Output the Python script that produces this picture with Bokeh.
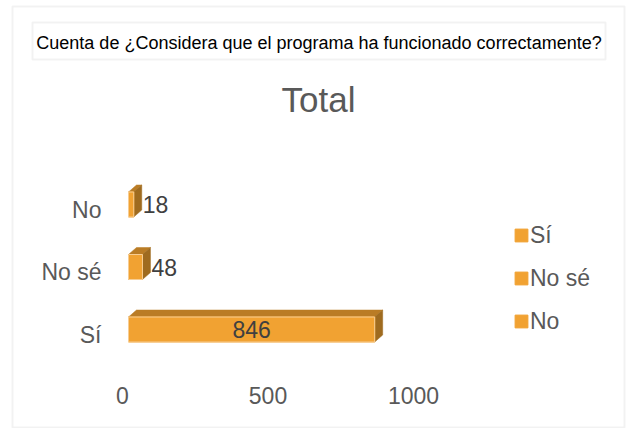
from bokeh.plotting import figure
from bokeh.models import (Range1d, Legend, LegendItem, Label, BoxAnnotation,
                          ColumnDataSource)
from bokeh.core.properties import value
from bokeh.embed import file_html
from bokeh.resources import INLINE

# ---- data ----
categories = ["Sí", "No sé", "No"]
counts = [846, 48, 18]
x_ticks = [0, 500, 1000]
header_text = "Cuenta de ¿Considera que el programa ha funcionado correctamente?"
chart_title = "Total"

# ---- layout constants (pixels in the 627x428 canvas) ----
W, H = 627, 428
X0_PX = 122.0          # where value 0 sits
PPX = 0.291            # pixels per unit of count
CAT0_PX = 334.0        # vertical centre of first category
PPY = 62.5             # pixels between categories
TICK_LABEL_PX = 395.0  # vertical centre of value tick labels
CAT_LABEL_RIGHT_PX = 101.0

x_start = -X0_PX / PPX
x_end = (W - X0_PX) / PPX
y_start = -(H - CAT0_PX) / PPY
y_end = y_start + H / PPY


def data_y(py):
    return y_start + (H - py) / PPY


def data_x(px):
    return (px - X0_PX) / PPX


FONT = "Liberation Sans"
FRONT = "#F1A232"
TOPC = "#BA7C25"
SIDEC = "#9F6B1F"
AXIS_TXT = "#595959"
LABEL_TXT = "#404040"
BORDER = "#D4D4D4"

p = figure(width=W, height=H, output_backend="svg", toolbar_location=None,
           x_range=Range1d(x_start, x_end), y_range=Range1d(y_start, y_end),
           x_axis_location=None, y_axis_location=None, min_border=0)
p.grid.visible = False
p.outline_line_color = None
p.background_fill_color = "white"
p.border_fill_color = "white"

# ---- 3D bars ----
n = len(categories)
ys = list(range(n))
off_x = 6 / PPX
lift = 5 / PPY
half_h = 12.5 / PPY
ddx = 8 / PPX
ddy = 7 / PPY

left = [off_x] * n
right = [off_x + c for c in counts]
bottom = [y + lift - half_h for y in ys]
top = [y + lift + half_h for y in ys]

top_xs = [[l, r, r + ddx, l + ddx] for l, r in zip(left, right)]
top_ys = [[t, t, t + ddy, t + ddy] for t in top]
side_xs = [[r, r + ddx, r + ddx, r] for r in right]
side_ys = [[b, b + ddy, t + ddy, t] for b, t in zip(bottom, top)]

p.patches(top_xs, top_ys, fill_color=TOPC, line_color=TOPC, line_width=0.5)
p.patches(side_xs, side_ys, fill_color=SIDEC, line_color=SIDEC, line_width=0.5)
front_src = ColumnDataSource(dict(left=left, right=right, bottom=bottom, top=top,
                                  cat=categories))
front = p.quad(left="left", right="right", bottom="bottom", top="top",
               source=front_src, fill_color=FRONT, line_color=FRONT,
               line_width=1)
# faint light edge of the front faces
p.quad(left=left, right=right, bottom=bottom, top=top, fill_alpha=0,
       line_color="#F7CD93", line_width=1)

# ---- data labels ----
in_x, in_y, in_t = [], [], []
out_x, out_y, out_t = [], [], []
for c, l, r, b, t in zip(counts, left, right, bottom, top):
    if (r - l) * PPX > 60:
        in_x.append((l + r) / 2); in_y.append((b + t) / 2); in_t.append(str(c))
    else:
        out_x.append(r); out_y.append((b + t) / 2); out_t.append(str(c))

p.text(x=in_x, y=in_y, text=in_t, text_align="center", text_baseline="middle",
       text_font=value(FONT), text_font_size="23px", text_color=LABEL_TXT)
p.text(x=out_x, y=out_y, text=out_t, text_align="left", text_baseline="middle",
       x_offset=9, text_font=value(FONT), text_font_size="23px",
       text_color=LABEL_TXT)

# ---- axis labels (drawn on the plot's scales) ----
p.text(x=x_ticks, y=[data_y(TICK_LABEL_PX)] * len(x_ticks),
       text=[str(t) for t in x_ticks], text_align="center", text_baseline="middle",
       text_font=value(FONT), text_font_size="23px", text_color=AXIS_TXT)
p.text(x=[data_x(CAT_LABEL_RIGHT_PX)] * n, y=ys, text=categories,
       text_align="right", text_baseline="middle",
       text_font=value(FONT), text_font_size="23px", text_color=AXIS_TXT)

# ---- legend ----
items = [LegendItem(label=c, renderers=[front], index=i) for i, c in enumerate(categories)]
legend = Legend(items=items, location=(513, 92), margin=0, padding=0,
                glyph_width=16, glyph_height=16, label_standoff=1,
                label_height=30, spacing=13,
                label_text_font=FONT, label_text_font_size="23px",
                label_text_color=AXIS_TXT, border_line_color=None,
                background_fill_alpha=0)
p.add_layout(legend, "center")

# ---- borders and titles (screen units, y measured from the bottom) ----
def box(l, r, t, b, lw):
    return BoxAnnotation(left=l, right=r, top=H - t, bottom=H - b,
                         left_units="screen", right_units="screen",
                         top_units="screen", bottom_units="screen",
                         fill_alpha=0, line_color=BORDER, line_width=lw)


p.add_layout(box(12, 624, 6, 427, 2))
p.add_layout(box(32, 605, 22, 59, 2))
p.add_layout(Label(x=318.5, y=H - 42, x_units="screen", y_units="screen",
                   text=header_text, text_align="center", text_baseline="middle",
                   text_font=FONT, text_font_size="18px", text_color="black"))
p.add_layout(Label(x=318, y=H - 99, x_units="screen", y_units="screen",
                   text=chart_title, text_align="center", text_baseline="middle",
                   text_font=FONT, text_font_size="35px", text_color=AXIS_TXT))

open("out.html", "w").write(file_html(p, INLINE))
